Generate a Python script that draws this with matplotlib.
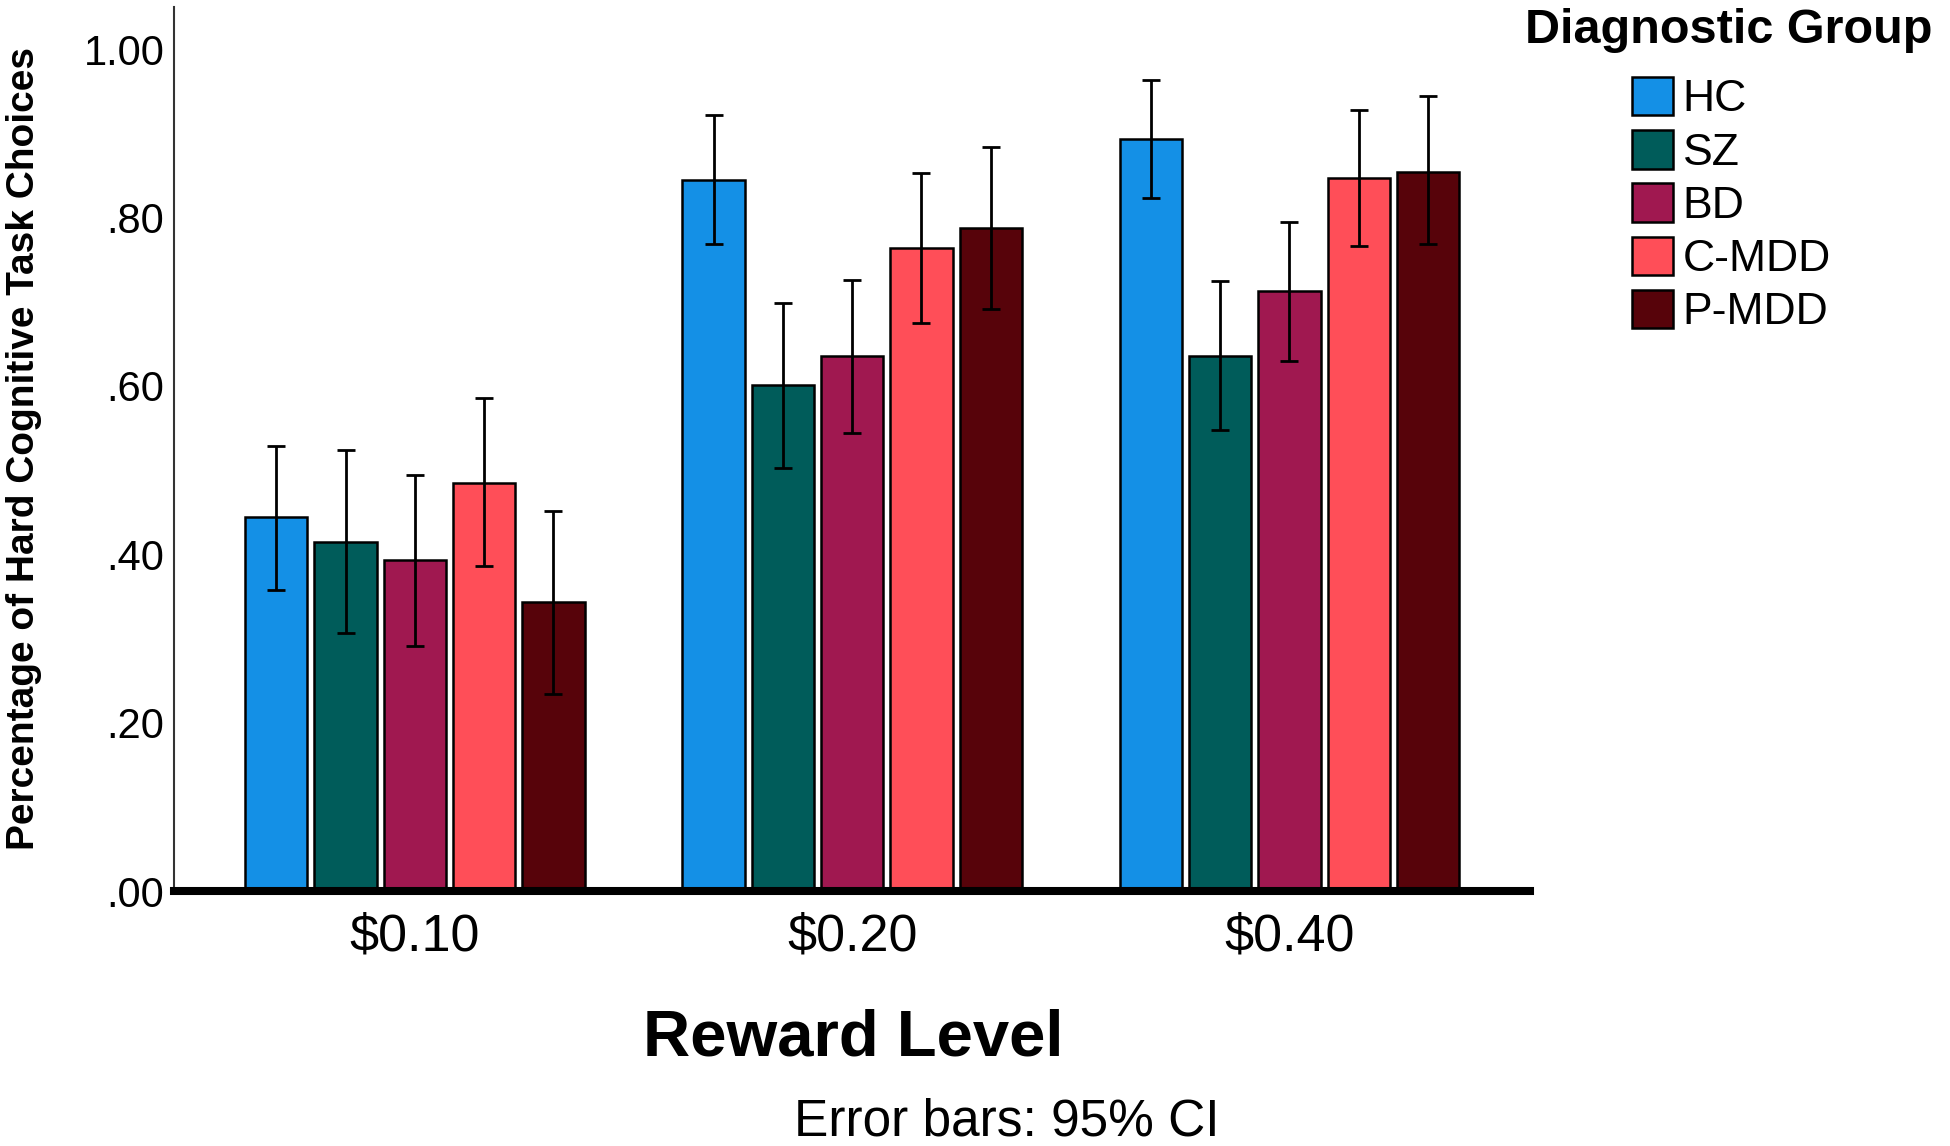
import numpy as np
import matplotlib
matplotlib.use("Agg")
import matplotlib.pyplot as plt

plt.rcParams['font.family'] = ['Liberation Sans', 'DejaVu Sans']

# reward levels on the x axis and diagnostic groups (one bar per group)
rewards = ['$0.10', '$0.20', '$0.40']
groups = ['HC', 'SZ', 'BD', 'C-MDD', 'P-MDD']
colors = ['#1490E6', '#005C5A', '#A01850', '#FF4E58', '#57030A']

# means and 95% CI bounds
hc_mean = [0.444, 0.845, 0.893]
hc_lo = [0.357, 0.768, 0.823]
hc_hi = [0.529, 0.922, 0.963]

sz_mean = [0.415, 0.601, 0.635]
sz_lo = [0.306, 0.503, 0.547]
sz_hi = [0.524, 0.698, 0.724]

bd_mean = [0.393, 0.635, 0.713]
bd_lo = [0.291, 0.544, 0.630]
bd_hi = [0.494, 0.726, 0.795]

cmdd_mean = [0.485, 0.764, 0.847]
cmdd_lo = [0.386, 0.675, 0.766]
cmdd_hi = [0.585, 0.853, 0.928]

pmdd_mean = [0.343, 0.788, 0.854]
pmdd_lo = [0.234, 0.691, 0.768]
pmdd_hi = [0.451, 0.884, 0.944]

y_ticks = [0.0, 0.2, 0.4, 0.6, 0.8, 1.0]
y_ticklabels = ['.00', '.20', '.40', '.60', '.80', '1.00']

means = [hc_mean, sz_mean, bd_mean, cmdd_mean, pmdd_mean]
lows = [hc_lo, sz_lo, bd_lo, cmdd_lo, pmdd_lo]
highs = [hc_hi, sz_hi, bd_hi, cmdd_hi, pmdd_hi]

fig = plt.figure(figsize=(19.5, 11.46), dpi=100)
ax = fig.add_axes([0.0894, 0.2225, 0.6952, 0.7714])

x = np.arange(len(rewards))
pitch = 0.1584
width = 0.1426
handles = []
for i, (name, m, lo, hi, col) in enumerate(zip(groups, means, lows, highs, colors)):
    pos = x + (i - 2) * pitch
    m = np.array(m)
    bars = ax.bar(pos, m, width, color=col, edgecolor='black',
                  linewidth=1.8, label=name, zorder=2)
    handles.append(bars)
    yerr = [m - np.array(lo), np.array(hi) - m]
    ax.errorbar(pos, m, yerr=yerr, fmt='none', ecolor='black',
                elinewidth=2, capsize=6.8, capthick=2, zorder=3)

ax.set_xlim(-0.55, 2.55)
ax.set_ylim(0, 1.05)

for side in ['top', 'right']:
    ax.spines[side].set_visible(False)
ax.spines['left'].set_color('#333333')
ax.spines['left'].set_linewidth(1.5)
ax.spines['bottom'].set_color('black')
ax.spines['bottom'].set_linewidth(5.8)

ax.set_yticks(y_ticks)
ax.set_yticklabels(y_ticklabels)
ax.set_xticks(x)
ax.set_xticklabels(rewards)
ax.tick_params(axis='y', length=0, pad=7.2, labelsize=30)
ax.tick_params(axis='x', length=0, pad=15.5, labelsize=37.5)

fig.text(24 / 1950, 1 - 449 / 1146, 'Percentage of Hard Cognitive Task Choices',
         rotation=90, ha='center', va='center', fontsize=28, fontweight='bold')
fig.text(853 / 1950, 1 - 1055 / 1146, 'Reward Level', ha='center',
         va='baseline', fontsize=47, fontweight='bold')
fig.text(1007 / 1950, 1 - 1136 / 1146, 'Error bars: 95% CI', ha='center',
         va='baseline', fontsize=37)

# legend: title placed on its own so the gap to the entries can be set freely
fig.text(1729 / 1950, 1 - 43 / 1146, 'Diagnostic Group', ha='center',
         va='baseline', fontsize=35, fontweight='bold')
fig.legend(handles, groups, loc='upper left',
           bbox_to_anchor=(1632 / 1950, 1 - 77 / 1146),
           fontsize=32, frameon=False, handlelength=0.92, handleheight=0.95,
           handletextpad=0.22, labelspacing=0.22,
           borderpad=0, borderaxespad=0)

fig.savefig('out.png', dpi=100)
